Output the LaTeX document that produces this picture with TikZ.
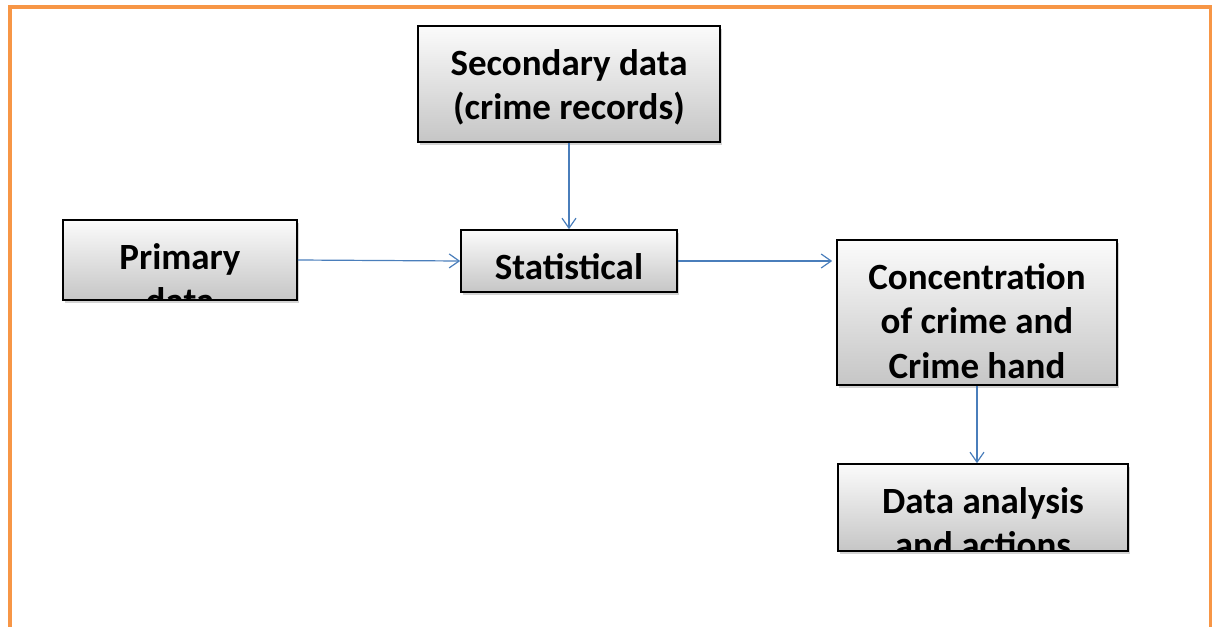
\documentclass[tikz,border=0pt]{standalone}
\usepackage{fontspec}
\setmainfont{Carlito}
\usepackage{xcolor}
\usetikzlibrary{arrows.meta, positioning, calc, shadows}

\definecolor{frameorange}{HTML}{F79646}
\definecolor{linkblue}{HTML}{4A7EBB}

\begin{document}
\begin{tikzpicture}[
    x=0.5pt, y=-0.5pt,
    flowbox/.style={draw=black, line width=0.8pt, top color=gray!3, bottom color=gray!45,
        drop shadow={shadow xshift=1pt, shadow yshift=-1.5pt, opacity=0.35}, inner sep=0pt},
    boxtext/.style={font=\bfseries\fontsize{18.5}{22.2}\selectfont, align=center, inner sep=0pt,
        minimum width=0pt, minimum height=0pt, anchor=north},
    cliptext/.style={path picture={\node[boxtext] at ([yshift=-8.8pt]path picture bounding box.north) {\strut #1};}},
    link/.style={-{Straight Barb[length=5pt, width=7pt]}, linkblue, line width=0.6pt}
]
\useasboundingbox (0,0) rectangle (1212,627);

% Frame
\draw[frameorange, line width=2pt] (10,700) -- (10,7) -- (1211,7) -- (1211,700);

% Boxes
\node[flowbox, minimum width=151pt, minimum height=58pt, cliptext={Secondary data\\(crime records)}] (second) at (569,84) {};
\node[flowbox, minimum width=117pt, minimum height=40pt, cliptext={Primary\\data}] (primary) at (180,260) {};
\node[flowbox, minimum width=108pt, minimum height=31pt, cliptext={Statistical}] (stat) at (569,261) {};
\node[flowbox, minimum width=140pt, minimum height=72.5pt, cliptext={Concentration\\of crime and\\Crime hand}] (conc) at (977,312.5) {};
\node[flowbox, minimum width=145pt, minimum height=43.5pt, cliptext={Data analysis\\and actions}] (analysis) at (983,507.5) {};

% Links
\draw[link] (second.south) -- (stat.north);
\draw[link] (primary.east) -- (stat.west);
\draw[link, shorten >=2pt] (stat.east) -- (stat.east -| conc.west);
\draw[link] (conc.south) -- (conc.south |- analysis.north);

\end{tikzpicture}
\end{document}
